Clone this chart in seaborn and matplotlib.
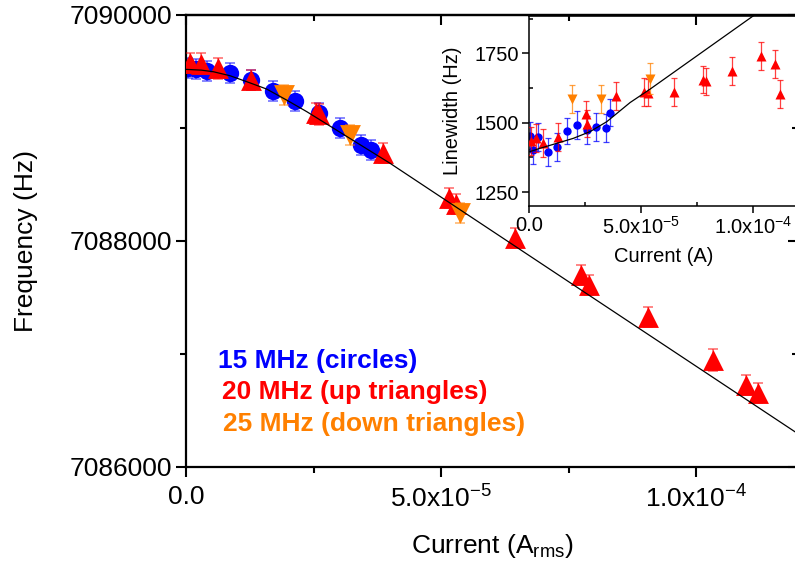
import matplotlib
matplotlib.use('Agg')
import matplotlib.pyplot as plt
import seaborn as sns
from matplotlib.ticker import MultipleLocator

# ---------------- data ----------------
blue_x = [0.4e-6, 1.9e-6, 4.2e-6, 8.6e-6, 1.27e-5, 1.71e-5, 2.14e-5, 2.6e-5, 3.01e-5, 3.44e-5, 3.62e-5]
blue_freq = [7089530, 7089520, 7089505, 7089487, 7089425, 7089327, 7089239, 7089133, 7089000, 7088850, 7088805]
blue_freq_err = [90, 90, 90, 90, 90, 90, 90, 90, 90, 90, 90]
blue_lw = [1454, 1402, 1450, 1396, 1414, 1470, 1491, 1473, 1486, 1480, 1537]
blue_lw_err = [50, 50, 50, 50, 50, 48, 50, 50, 50, 50, 50]

red_x = [0.8e-6, 2.9e-6, 6.2e-6, 1.28e-5, 2.55e-5, 2.6e-5, 3.87e-5, 5.15e-5, 5.3e-5,
         6.46e-5, 7.75e-5, 7.9e-5, 9.05e-5, 1.034e-4, 1.098e-4, 1.121e-4]
red_freq = [7089573, 7089570, 7089528, 7089425, 7089133, 7089120, 7088776, 7088378, 7088327,
            7088024, 7087700, 7087612, 7087330, 7086947, 7086726, 7086652]
red_freq_err = [90, 90, 90, 90, 90, 90, 90, 90, 90, 90, 90, 90, 90, 95, 90, 90]
red_lw = [1434, 1444, 1426, 1450, 1530, 1497, 1597, 1611, 1609,
          1611, 1656, 1649, 1688, 1740, 1713, 1605]
red_lw_err = [50, 50, 50, 50, 48, 48, 50, 50, 50, 50, 50, 50, 50, 50, 50, 50]

orange_x = [1.92e-5, 3.22e-5, 5.38e-5]
orange_freq = [7089292, 7088938, 7088245]
orange_freq_err = [90, 90, 90]
orange_lw = [1585, 1587, 1659]
orange_lw_err = [50, 50, 55]

fit_x = [0.0, 3e-6, 5.35e-6, 8.6e-6, 1.19e-5, 1.58e-5, 1.97e-5, 2.37e-5, 4.0e-5, 1.2e-4]
fit_freq = [7089519, 7089512, 7089498, 7089463, 7089410, 7089345, 7089248, 7089144, 7088688, 7086294]

ifit_x = [0.0, 4.9e-6, 1.24e-5, 1.98e-5, 2.72e-5, 3.47e-5, 4.51e-5, 5.36e-5, 1.2e-4]
ifit_lw = [1395, 1408, 1426, 1444, 1468, 1504, 1573, 1619, 2000]

x_ticks = [0.0, 5e-5, 1e-4]
x_tick_labels = ['0.0', '5.0x10$^{-5}$', '1.0x10$^{-4}$']
freq_ticks = [7086000, 7088000, 7090000]
freq_tick_labels = ['7086000', '7088000', '7090000']
lw_ticks = [1250, 1500, 1750]
lw_tick_labels = ['1250', '1500', '1750']

legend_lines = ['15 MHz (circles)', '20 MHz (up triangles)', '25 MHz (down triangles)']

BLUE = '#0000FF'
RED = '#FF0000'
ORANGE = '#FF8000'

# ---------------- style ----------------
sns.set_theme(style='white')
plt.rcParams['font.family'] = ['Liberation Sans', 'DejaVu Sans']
plt.rcParams['mathtext.fontset'] = 'custom'
plt.rcParams['mathtext.rm'] = 'Liberation Sans'
plt.rcParams['mathtext.it'] = 'Liberation Sans:italic'
plt.rcParams['mathtext.bf'] = 'Liberation Sans:bold'
plt.rcParams['text.color'] = 'black'
plt.rcParams['axes.labelcolor'] = 'black'
plt.rcParams['xtick.color'] = 'black'
plt.rcParams['ytick.color'] = 'black'
plt.rcParams['axes.edgecolor'] = 'black'

fig = plt.figure(figsize=(7.95, 5.72), dpi=100)
fig.patch.set_facecolor('white')

W, H = 795.0, 572.0
ax = fig.add_axes([186 / W, (H - 467) / H, (798 - 186) / W, (467 - 15) / H])
ax.set_facecolor('white')


def draw_series(a, x, y, err, color, marker, size, capsize, elw, alpha, z):
    a.errorbar(x, y, yerr=err, fmt='none', ecolor=color, elinewidth=elw,
               capsize=capsize, capthick=elw, alpha=alpha, zorder=z)
    sns.scatterplot(x=x, y=y, marker=marker, s=size ** 2, color=color,
                    linewidth=0, ax=a, zorder=z + 0.5, legend=False)


# main series
draw_series(ax, blue_x, blue_freq, blue_freq_err, BLUE, 'o', 12.5, 3.6, 1.1, 0.6, 2)
draw_series(ax, red_x, red_freq, red_freq_err, RED, '^', 15, 3.6, 1.1, 0.6, 3)
draw_series(ax, orange_x, orange_freq, orange_freq_err, ORANGE, 'v', 15, 3.6, 1.1, 0.6, 4)
sns.lineplot(x=fit_x, y=fit_freq, sort=False, estimator=None, color='black',
             linewidth=0.9, ax=ax, zorder=6)

ax.set_xlim(0, 1.2e-4)
ax.set_ylim(7086000, 7090000)
ax.set_xticks(x_ticks)
ax.set_xticklabels(x_tick_labels)
ax.set_yticks(freq_ticks)
ax.set_yticklabels(freq_tick_labels)
ax.xaxis.set_minor_locator(MultipleLocator(2.5e-5))
ax.yaxis.set_minor_locator(MultipleLocator(1000))
ax.tick_params(which='major', direction='out', length=7, width=1.5, labelsize=19,
               bottom=True, left=True, top=False, right=False, colors='black')
ax.tick_params(axis='x', which='major', pad=6)
ax.tick_params(axis='y', which='major', pad=3)
ax.tick_params(which='minor', direction='out', length=4, width=1.5,
               bottom=True, left=True, top=False, right=False, colors='black')
for s in ax.spines.values():
    s.set_color('black')
    s.set_linewidth(1.6)
ax.set_xlabel('Current (A$_{\\mathrm{rms}}$)', fontsize=19, labelpad=14, color='black')
ax.set_ylabel('Frequency (Hz)', fontsize=19, labelpad=23, color='black')

# mirrored inward ticks on top and right
sx = ax.secondary_xaxis('top')
sx.set_xticks(x_ticks)
sx.xaxis.set_minor_locator(MultipleLocator(2.5e-5))
sx.tick_params(which='major', direction='in', length=7, width=1.5, top=True, labeltop=False, colors='black')
sx.tick_params(which='minor', direction='in', length=4, width=1.5, top=True, colors='black')
sx.spines['top'].set_linewidth(1.6)
sy = ax.secondary_yaxis('right')
sy.set_yticks(freq_ticks)
sy.yaxis.set_minor_locator(MultipleLocator(1000))
sy.tick_params(which='major', direction='in', length=7, width=1.5, right=True, labelright=False, colors='black')
sy.tick_params(which='minor', direction='in', length=4, width=1.5, right=True, colors='black')

# legend-like coloured text
fig.text(218 / W, 1 - 361 / H, legend_lines[0], color=BLUE, fontsize=19, fontweight='bold', va='center', ha='left')
fig.text(222 / W, 1 - 392 / H, legend_lines[1], color=RED, fontsize=19, fontweight='bold', va='center', ha='left')
fig.text(223 / W, 1 - 424 / H, legend_lines[2], color=ORANGE, fontsize=19, fontweight='bold', va='center', ha='left')

# ---------------- inset ----------------
axi = fig.add_axes([529 / W, (H - 206) / H, (798 - 529) / W, (206 - 16) / H])
axi.patch.set_alpha(0.0)
draw_series(axi, blue_x, blue_lw, blue_lw_err, BLUE, 'o', 6, 2.2, 0.9, 0.75, 2)
draw_series(axi, red_x, red_lw, red_lw_err, RED, '^', 7.2, 2.2, 0.9, 0.75, 3)
draw_series(axi, orange_x, orange_lw, orange_lw_err, ORANGE, 'v', 7.2, 2.2, 0.9, 0.75, 4)
sns.lineplot(x=ifit_x, y=ifit_lw, sort=False, estimator=None, color='black',
             linewidth=0.9, ax=axi, zorder=6)
axi.set_xlim(0, 1.2e-4)
axi.set_ylim(1200, 1885)
axi.set_xticks(x_ticks)
axi.set_xticklabels(x_tick_labels)
axi.set_yticks(lw_ticks)
axi.set_yticklabels(lw_tick_labels)
axi.xaxis.set_minor_locator(MultipleLocator(2.5e-5))
axi.yaxis.set_minor_locator(MultipleLocator(125))
axi.tick_params(which='major', direction='out', length=5, width=1.1, labelsize=14.5,
                bottom=True, left=True, pad=2, colors='black')
axi.tick_params(which='minor', direction='in', length=3, width=1.1,
                bottom=True, left=True, colors='black')
for s in axi.spines.values():
    s.set_color('black')
    s.set_linewidth(1.1)
axi.set_xlabel('Current (A)', fontsize=14.5, labelpad=7, color='black')
axi.set_ylabel('Linewidth (Hz)', fontsize=14.5, labelpad=9, color='black')

fig.savefig('out.png', dpi=100)
